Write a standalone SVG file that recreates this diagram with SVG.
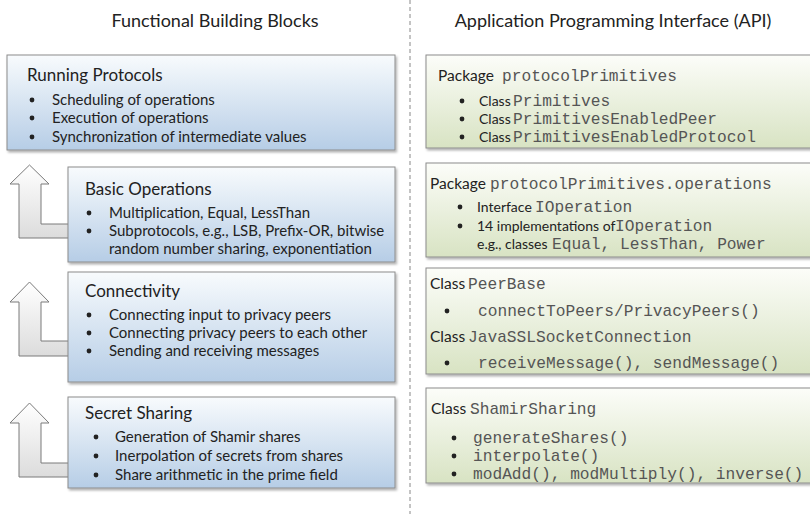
<svg xmlns="http://www.w3.org/2000/svg" width="810" height="514" viewBox="0 0 810 514">
<defs>
<linearGradient id="gBlue" x1="0" y1="0" x2="0" y2="1">
<stop offset="0" stop-color="#f8fbfd"/><stop offset="1" stop-color="#b6cde6"/>
</linearGradient>
<linearGradient id="gGreen" x1="0" y1="0" x2="0" y2="1">
<stop offset="0" stop-color="#fcfdf9"/><stop offset="1" stop-color="#d8e3c3"/>
</linearGradient>
<linearGradient id="gArrow" x1="0" y1="0" x2="0" y2="1">
<stop offset="0" stop-color="#ffffff"/><stop offset="1" stop-color="#dcdcdc"/>
</linearGradient>
<filter id="sh" x="-5%" y="-5%" width="115%" height="125%">
<feDropShadow dx="1.5" dy="2" stdDeviation="1.2" flood-color="#000" flood-opacity="0.3"/>
</filter>
</defs>
<style>
.bl{fill:url(#gBlue);stroke:#8c8c8c;stroke-width:1;filter:url(#sh)}
.gr{fill:url(#gGreen);stroke:#8c8c8c;stroke-width:1;filter:url(#sh)}
.ar{fill:url(#gArrow);stroke:#7a7a7a;stroke-width:1}
.hd{font-family:Lato,"Liberation Sans",sans-serif;font-size:18px;fill:#222}
.tt{font-family:Lato,"Liberation Sans",sans-serif;font-size:17px;fill:#222}
.tp{font-family:Lato,"Liberation Sans",sans-serif;font-size:15.5px;fill:#222}
.tx{font-family:Lato,"Liberation Sans",sans-serif;font-size:15px;fill:#222}
.ts{font-family:Lato,"Liberation Sans",sans-serif;font-size:14px;fill:#222}
.mo{font-family:"Liberation Mono",monospace;font-size:16.2px;fill:#555}
.bu{fill:#222}
</style>
<g id="connectors">
<line x1="410" y1="0" x2="410" y2="514" stroke="#888" stroke-width="1" stroke-dasharray="4,3"/>
<path class="ar" d="M29.5 165 L49 184 L41 184 L41 224 L74 224 L74 238 L19 238 L19 184 L10 184 Z"/>
<path class="ar" d="M29.5 282 L49 302 L41 302 L41 341 L74 341 L74 356 L19 356 L19 302 L10 302 Z"/>
<path class="ar" d="M29.5 403 L49 423 L41 423 L41 463 L74 463 L74 477 L19 477 L19 423 L10 423 Z"/>
</g>
<g id="headers">
<text class="hd" x="215" y="27" text-anchor="middle">Functional Building Blocks</text>
<text class="hd" x="613" y="27" text-anchor="middle">Application Programming Interface (API)</text>
</g>
<g id="running-protocols">
<rect class="bl" x="7" y="55" width="388" height="95"/>
<text class="tt" x="27" y="81">Running Protocols</text>
<circle class="bu" cx="32" cy="100" r="2.4"/><text class="tx" x="52" y="105">Scheduling of operations</text>
<circle class="bu" cx="32" cy="118" r="2.4"/><text class="tx" x="52" y="123">Execution of operations</text>
<circle class="bu" cx="32" cy="137" r="2.4"/><text class="tx" x="52" y="142">Synchronization of intermediate values</text>
</g>
<g id="basic-operations">
<rect class="bl" x="68" y="167" width="327" height="95"/>
<text class="tt" x="85" y="195">Basic Operations</text>
<circle class="bu" cx="89" cy="213" r="2.4"/><text class="tx" x="109" y="218">Multiplication, Equal, LessThan</text>
<circle class="bu" cx="89" cy="231" r="2.4"/><text class="tx" x="109" y="236">Subprotocols, e.g., LSB, Prefix-OR, bitwise</text>
<text class="tx" x="109" y="254">random number sharing, exponentiation</text>
</g>
<g id="connectivity">
<rect class="bl" x="68" y="272" width="327" height="110"/>
<text class="tt" x="85" y="297">Connectivity</text>
<circle class="bu" cx="89" cy="315" r="2.4"/><text class="tx" x="109" y="320">Connecting input to privacy peers</text>
<circle class="bu" cx="89" cy="333" r="2.4"/><text class="tx" x="109" y="338">Connecting privacy peers to each other</text>
<circle class="bu" cx="89" cy="351" r="2.4"/><text class="tx" x="109" y="356">Sending and receiving messages</text>
</g>
<g id="secret-sharing">
<rect class="bl" x="68" y="397" width="327" height="91"/>
<text class="tt" x="85" y="419">Secret Sharing</text>
<circle class="bu" cx="96" cy="437" r="2.4"/><text class="tx" x="115" y="442">Generation of Shamir shares</text>
<circle class="bu" cx="96" cy="456" r="2.4"/><text class="tx" x="115" y="461">Inerpolation of secrets from shares</text>
<circle class="bu" cx="96" cy="475" r="2.4"/><text class="tx" x="115" y="480">Share arithmetic in the prime field</text>
</g>
<g id="api-protocolPrimitives">
<rect class="gr" x="426" y="55" width="390" height="93"/>
<text x="438" y="81"><tspan class="tp">Package</tspan><tspan class="mo" x="502">protocolPrimitives</tspan></text>
<circle class="bu" cx="462" cy="101" r="2.4"/><text x="479" y="106"><tspan class="ts">Class</tspan><tspan class="mo" x="513">Primitives</tspan></text>
<circle class="bu" cx="462" cy="119" r="2.4"/><text x="479" y="124"><tspan class="ts">Class</tspan><tspan class="mo" x="513">PrimitivesEnabledPeer</tspan></text>
<circle class="bu" cx="462" cy="137" r="2.4"/><text x="479" y="142"><tspan class="ts">Class</tspan><tspan class="mo" x="513">PrimitivesEnabledProtocol</tspan></text>
</g>
<g id="api-operations">
<rect class="gr" x="426" y="163" width="390" height="94"/>
<text x="430" y="189"><tspan class="tp">Package</tspan><tspan class="mo" x="490">protocolPrimitives.operations</tspan></text>
<circle class="bu" cx="460" cy="207" r="2.4"/><text x="477" y="212"><tspan class="ts">Interface</tspan><tspan class="mo" x="535">IOperation</tspan></text>
<circle class="bu" cx="460" cy="226" r="2.4"/><text x="477" y="231"><tspan class="ts">14 implementations of</tspan><tspan class="mo" x="615">IOperation</tspan></text>
<text x="477" y="249"><tspan class="ts">e.g., classes</tspan><tspan class="mo" x="552">Equal, LessThan, Power</tspan></text>
</g>
<g id="api-connectivity">
<rect class="gr" x="426" y="268" width="390" height="106"/>
<text x="430" y="289"><tspan class="tp">Class</tspan><tspan class="mo" x="468">PeerBase</tspan></text>
<circle class="bu" cx="447" cy="311" r="2.4"/><text class="mo" x="478" y="316">connectToPeers/PrivacyPeers()</text>
<text x="430" y="342"><tspan class="tp">Class</tspan><tspan class="mo" x="468">JavaSSLSocketConnection</tspan></text>
<circle class="bu" cx="447" cy="363" r="2.4"/><text class="mo" x="478" y="368">receiveMessage(), sendMessage()</text>
</g>
<g id="api-shamir">
<rect class="gr" x="426" y="388" width="390" height="95"/>
<text x="431" y="414"><tspan class="tp">Class</tspan><tspan class="mo" x="470">ShamirSharing</tspan></text>
<circle class="bu" cx="454" cy="438" r="2.4"/><text class="mo" x="473" y="443">generateShares()</text>
<circle class="bu" cx="454" cy="456" r="2.4"/><text class="mo" x="473" y="461">interpolate()</text>
<circle class="bu" cx="454" cy="474" r="2.4"/><text class="mo" x="473" y="479">modAdd(), modMultiply(), inverse()</text>
</g>
</svg>
